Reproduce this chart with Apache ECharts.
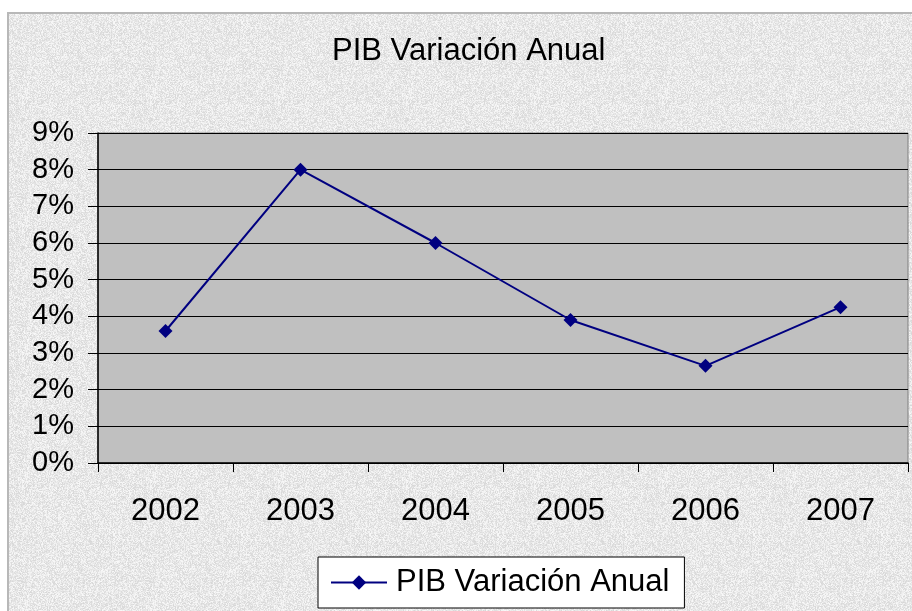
<!DOCTYPE html>
<html>
<head>
<meta charset="utf-8">
<script src="https://cdn.jsdelivr.net/npm/echarts@6/dist/echarts.min.js"></script>
<style>
html, body { margin: 0; padding: 0; background: #fff; }
#container { width: 912px; height: 611px; }
</style>
</head>
<body>
<div id="container"></div>
<script>
var years = ["2002", "2003", "2004", "2005", "2006", "2007"];
var pibValues = [3.6, 8.0, 6.0, 3.9, 2.65, 4.25];
var seriesName = "PIB Variación Anual";

// granite-like backdrop, deterministic hash noise
function makeTexture() {
    var c = document.createElement("canvas");
    c.width = 128; c.height = 128;
    var ctx = c.getContext("2d");
    var img = ctx.createImageData(128, 128);
    for (var i = 0; i < 128 * 128; i++) {
        var h = Math.sin(i * 12.9898 + 78.233) * 43758.5453;
        h = h - Math.floor(h);
        var v = 232 + Math.round((h - 0.5) * 34);
        img.data[i * 4] = v; img.data[i * 4 + 1] = v; img.data[i * 4 + 2] = v; img.data[i * 4 + 3] = 255;
    }
    ctx.putImageData(img, 0, 0);
    return c;
}

var chart = echarts.init(document.getElementById("container"));
var fontFamily = "Liberation Sans, Arial, sans-serif";
chart.setOption({
    animation: false,
    backgroundColor: "#ffffff",
    graphic: [{
        type: "rect", z: -10, silent: true,
        shape: { x: 8, y: 13, width: 920, height: 620 },
        style: { fill: { image: makeTexture(), repeat: "repeat" }, stroke: "#b8b8b8", lineWidth: 2 }
    }],
    title: {
        text: seriesName,
        left: 327, top: 31,
        textStyle: { fontFamily: fontFamily, fontSize: 31, fontWeight: "normal", color: "#000" }
    },
    grid: { left: 98, top: 133, right: 4, bottom: 148, show: true, backgroundColor: "#c0c0c0", borderColor: "#808080", borderWidth: 1 },
    legend: {
        data: [seriesName],
        left: 318, top: 557,
        padding: [10, 15, 10, 12],
        backgroundColor: "#ffffff", borderColor: "#000", borderWidth: 1,
        itemWidth: 56, itemHeight: 18, itemGap: 8,
        textStyle: { fontFamily: fontFamily, fontSize: 31, color: "#000", padding: [0, 0, 0, 4] }
    },
    xAxis: {
        type: "category",
        data: years,
        boundaryGap: true,
        axisLine: { lineStyle: { color: "#000", width: 1.5 } },
        axisTick: { show: true, length: 9, lineStyle: { color: "#000" } },
        axisLabel: { margin: 33, fontFamily: fontFamily, fontSize: 31, color: "#000" }
    },
    yAxis: {
        type: "value",
        min: 0, max: 9, interval: 1,
        axisLine: { show: true, lineStyle: { color: "#000", width: 1.5 } },
        axisTick: { show: true, length: 10, lineStyle: { color: "#000" } },
        axisLabel: { margin: 24, formatter: "{value}%", fontFamily: fontFamily, fontSize: 29, color: "#000" },
        splitLine: { show: true, lineStyle: { color: "#000", width: 1 } }
    },
    series: [{
        name: seriesName,
        type: "line",
        data: pibValues,
        symbol: "diamond",
        symbolSize: 14,
        lineStyle: { color: "#000080", width: 2 },
        itemStyle: { color: "#000080" }
    }]
});
</script>
</body>
</html>
